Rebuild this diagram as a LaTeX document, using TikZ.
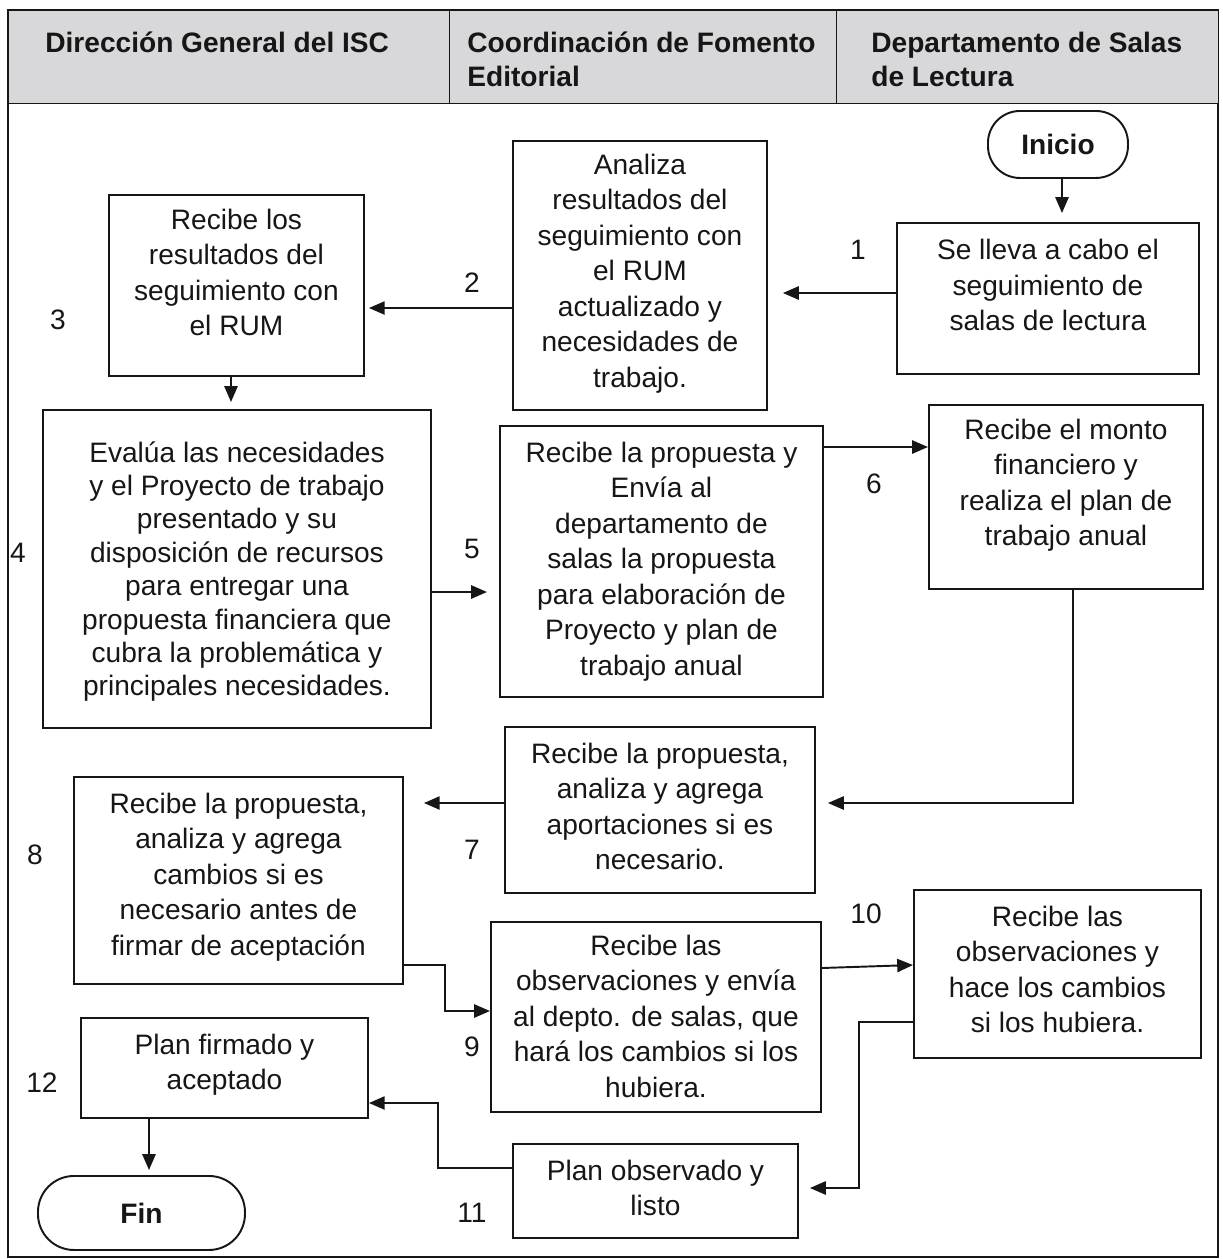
\documentclass[tikz,border=0pt]{standalone}
\usepackage{fontspec}
\setmainfont{Liberation Sans}
\usetikzlibrary{arrows.meta}
\newdimen\pxu \pxu=0.02cm
\newcommand\mystrut{\rule{0pt}{15pt}}
\definecolor{hdrgray}{RGB}{216,216,218}
\definecolor{inkc}{RGB}{22,22,22}
\begin{document}
\begin{tikzpicture}[x=0.02cm,y=-0.02cm,
  frameline/.style={draw=inkc,line width=0.8pt},
  hdrcell/.style={fill=hdrgray,draw=inkc,line width=0.8pt,anchor=north west,inner sep=0pt,minimum height=93\pxu},
  hdrtext/.style={anchor=north west,inner sep=0pt,align=left,text=inkc,font=\bfseries\fontsize{16}{19.3}\selectfont},
  procbox/.style={draw=inkc,line width=1.1pt,anchor=north west,inner sep=0pt},
  termbox/.style={draw=inkc,line width=1.1pt,anchor=north west,inner sep=0pt,rounded corners=#1,font=\bfseries\fontsize{16}{19}\selectfont,text=inkc},
  boxtext/.style={anchor=north,inner sep=0pt,align=center,text=inkc,font=\fontsize{16}{20.2}\selectfont},
  numlbl/.style={inner sep=0pt,text=inkc,font=\fontsize{16}{19}\selectfont},
  conn/.style={draw=inkc,line width=1.1pt,-{Triangle[length=9pt,width=7.5pt]}}]
\useasboundingbox (0,0) rectangle (1223,1259);
% table frame and header
\draw[frameline] (8,10) rectangle (1218,1257);
\node[hdrcell,minimum width=441\pxu] (h1) at (8,10) {};
\node[hdrcell,minimum width=387\pxu] (h2) at (449,10) {};
\node[hdrcell,minimum width=382\pxu] (h3) at (836,10) {};
\node[hdrtext] (h1t) at (45,25.5) {\mystrut Dirección General del ISC};
\node[hdrtext] (h2t) at (467,25.5) {\mystrut Coordinación de Fomento\\Editorial};
\node[hdrtext] (h3t) at (871,25.5) {\mystrut Departamento de Salas\\de Lectura};
% terminals
\node[termbox=32\pxu,minimum width=140\pxu,minimum height=67\pxu] (ini) at (987,110) {Inicio};
\node[termbox=36\pxu,minimum width=207\pxu,minimum height=74\pxu] (fin) at (37,1175) {Fin};
% process boxes
\node[procbox,minimum width=302\pxu,minimum height=151\pxu] (b1) at (896,222) {};
\node[procbox,minimum width=254\pxu,minimum height=269\pxu] (b2) at (512,140) {};
\node[procbox,minimum width=255\pxu,minimum height=181\pxu] (b3) at (108,194) {};
\node[procbox,minimum width=388\pxu,minimum height=318\pxu] (b4) at (42,409) {};
\node[procbox,minimum width=323\pxu,minimum height=271\pxu] (b5) at (499,425) {};
\node[procbox,minimum width=274\pxu,minimum height=184\pxu] (b6) at (928,404) {};
\node[procbox,minimum width=310\pxu,minimum height=166\pxu] (b7) at (504,726) {};
\node[procbox,minimum width=329\pxu,minimum height=207\pxu] (b8) at (73,776) {};
\node[procbox,minimum width=330\pxu,minimum height=190\pxu] (b9) at (490,921) {};
\node[procbox,minimum width=287\pxu,minimum height=168\pxu] (b10) at (913,889) {};
\node[procbox,minimum width=285\pxu,minimum height=94\pxu] (b11) at (512,1143) {};
\node[procbox,minimum width=287\pxu,minimum height=100\pxu] (b12) at (80,1017) {};
% box texts
\node[boxtext] (t1) at (b1.north |- 0,233) {\mystrut Se lleva a cabo el\\seguimiento de\\salas de lectura};
\node[boxtext] (t2) at (b2.north |- 0,147.5) {\mystrut Analiza\\resultados del\\seguimiento con\\el RUM\\actualizado y\\necesidades de\\trabajo.};
\node[boxtext] (t3) at (b3.north |- 0,202.5) {\mystrut Recibe los\\resultados del\\seguimiento con\\el RUM};
\node[boxtext,font=\fontsize{16}{19}\selectfont] (t4) at (b4.north |- 0,435.5) {\mystrut Evalúa las necesidades\\y el Proyecto de trabajo\\presentado y su\\disposición de recursos\\para entregar una\\propuesta financiera que\\cubra la problemática y\\principales necesidades.};
\node[boxtext] (t5) at (b5.north |- 0,435.5) {\mystrut Recibe la propuesta y\\Envía al\\departamento de\\salas la propuesta\\para elaboración de\\Proyecto y plan de\\trabajo anual};
\node[boxtext] (t6) at (b6.north |- 0,412.5) {\mystrut Recibe el monto\\financiero y\\realiza el plan de\\trabajo anual};
\node[boxtext] (t7) at (b7.north |- 0,736.5) {\mystrut Recibe la propuesta,\\analiza y agrega\\aportaciones si es\\necesario.};
\node[boxtext] (t8) at (b8.north |- 0,786.5) {\mystrut Recibe la propuesta,\\analiza y agrega\\cambios si es\\necesario antes de\\firmar de aceptación};
\node[boxtext] (t9) at (b9.north |- 0,928.5) {\mystrut Recibe las\\observaciones y envía\\al depto. de salas, que\\hará los cambios si los\\hubiera.};
\node[boxtext] (t10) at (b10.north |- 0,899.5) {\mystrut Recibe las\\observaciones y\\hace los cambios\\si los hubiera.};
\node[boxtext] (t11) at (b11.north |- 0,1153.5) {\mystrut Plan observado y\\listo};
\node[boxtext] (t12) at (b12.north |- 0,1027.5) {\mystrut Plan firmado y\\aceptado};
% step numbers
\node[numlbl] (n1) at (858,250) {1};
\node[numlbl] (n2) at (472,283) {2};
\node[numlbl] (n3) at (58,320) {3};
\node[numlbl] (n4) at (18,553) {4};
\node[numlbl] (n5) at (472,549) {5};
\node[numlbl] (n6) at (874,484) {6};
\node[numlbl] (n7) at (472,850) {7};
\node[numlbl] (n8) at (35,855) {8};
\node[numlbl] (n9) at (472,1047) {9};
\node[numlbl] (n10) at (866,914) {10};
\node[numlbl] (n11) at (472,1213) {11};
\node[numlbl] (n12) at (42,1083) {12};
% connectors
\draw[conn,shorten >=9\pxu] (ini.south -| 1062,0) -- (b1.north -| 1062,0);
\draw[conn,shorten >=15\pxu] (b1.west |- 0,293) -- (b2.east |- 0,293);
\draw[conn,shorten >=4\pxu] (b2.west |- 0,308) -- (b3.east |- 0,308);
\draw[conn,shorten >=7\pxu] (b3.south -| 231,0) -- (b4.north -| 231,0);
\draw[conn,shorten >=12\pxu] (b4.east |- 0,592) -- (b5.west |- 0,592);
\draw[conn] (b5.east |- 0,447) -- (b6.west |- 0,447);
\draw[conn,shorten >=12\pxu] (b6.south -| 1073,0) |- (b7.east |- 0,803);
\draw[conn,shorten >=20\pxu] (b7.west |- 0,803) -- (b8.east |- 0,803);
\draw[conn] (b8.east |- 0,965) -| (445,1011) -- (b9.west |- 0,1011);
\draw[conn] (b9.east |- 0,968) -- (b10.west |- 0,965);
\draw[conn,shorten >=11\pxu] (b10.west |- 0,1022) -| (859,1188) -- (b11.east |- 0,1188);
\draw[conn] (b11.west |- 0,1168) -| (438,1103) -- (b12.east |- 0,1103);
\draw[conn,shorten >=5\pxu] (b12.south -| 149,0) -- (fin.north -| 149,0);
\end{tikzpicture}
\end{document}
